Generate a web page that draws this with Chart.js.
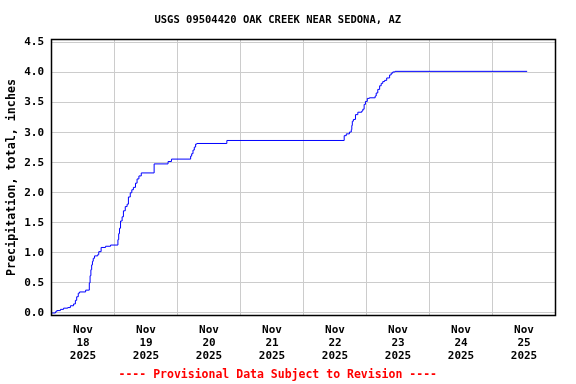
<!DOCTYPE html>
<html>
<head>
<meta charset="utf-8">
<script src="https://cdn.jsdelivr.net/npm/chart.js@4/dist/chart.umd.min.js"></script>
<style>
  body { margin: 0; background: #fff; }
</style>
</head>
<body>
<canvas id="precipChart" width="576" height="384"></canvas>
<script>
// hours since Nov 18 2025 00:00
const hours = [
    0, 1.5, 2.0, 3.4, 4.6, 6.2, 7.2, 8.4, 9.1, 9.6, 10.2, 10.7, 13.0,
    14.4, 14.7, 15.0, 15.3, 15.6, 15.9, 16.4, 17.6, 18.0, 18.9, 20.6, 22.5,
    25.3, 25.6, 25.9, 26.3, 26.9, 27.4, 28.1, 28.8, 29.3, 30.0, 30.6, 31.2,
    32.0, 32.6, 33.3, 34.2, 39.1, 44.4, 45.7,
    53.0, 53.4, 53.9, 54.4, 54.9, 55.4, 66.8,
    111.5, 112.3, 113.5, 114.2, 114.4, 114.6, 115.0, 115.8, 116.7, 118.2, 118.6,
    119.1, 119.6, 120.3, 121.1, 123.3, 123.7, 124.3, 125.0, 125.6, 126.2,
    126.9, 127.7, 128.8, 129.4, 130.0, 130.9, 181.2
]
// running total of precipitation, inches
const precip = [
    0.00, 0.02, 0.04, 0.06, 0.08, 0.09, 0.12, 0.15, 0.21, 0.27, 0.33, 0.35, 0.38,
    0.50, 0.62, 0.72, 0.80, 0.86, 0.91, 0.95, 0.97, 1.02, 1.09, 1.11, 1.13,
    1.22, 1.32, 1.41, 1.53, 1.60, 1.70, 1.77, 1.81, 1.93, 2.00, 2.05, 2.09,
    2.16, 2.23, 2.28, 2.33, 2.48, 2.52, 2.56,
    2.61, 2.65, 2.71, 2.76, 2.81, 2.82, 2.87,
    2.95, 2.98, 3.01, 3.05, 3.12, 3.19, 3.22, 3.30, 3.34, 3.36, 3.39,
    3.47, 3.52, 3.57, 3.58, 3.61, 3.66, 3.72, 3.78, 3.82, 3.85,
    3.87, 3.91, 3.96, 3.99, 4.01, 4.02, 4.02
]

// tick labels
const dayLabels = [
    ['Nov', '18', '2025'], ['Nov', '19', '2025'], ['Nov', '20', '2025'], ['Nov', '21', '2025'],
    ['Nov', '22', '2025'], ['Nov', '23', '2025'], ['Nov', '24', '2025'], ['Nov', '25', '2025']
]
const yTicks = [0.0, 0.5, 1.0, 1.5, 2.0, 2.5, 3.0, 3.5, 4.0, 4.5]

const monoFont = "'DejaVu Sans Mono', 'Liberation Mono', monospace"

// black box round the plot
const frame = {
    id: 'frame',
    afterDatasetsDraw(chart) {
        const { ctx, chartArea } = chart
        ctx.save()
        ctx.strokeStyle = '#000'
        ctx.lineWidth = 1.5
        ctx.strokeRect(chartArea.left, chartArea.top, chartArea.right - chartArea.left, chartArea.bottom - chartArea.top)
        ctx.restore()
    }
}

let points = hours.map((h, i) => ({ x: h, y: precip[i] }))

let precipChart = new Chart(document.querySelector('#precipChart').getContext('2d'), {
    type: 'line',
    data: {
        datasets: [{
            label: 'Precipitation',
            data: points,
            borderColor: '#0000ff',
            borderWidth: 1,
            pointRadius: 0,
            // the total jumps at each reading and then holds
            stepped: 'before',
            fill: false
        }]
    },
    options: {
        responsive: false,
        animation: false,
        devicePixelRatio: 1,
        layout: { padding: { left: 0, right: 20.5, top: 0, bottom: 0 } },
        plugins: {
            legend: { display: false },
            tooltip: { enabled: false },
            title: {
                display: true,
                text: 'USGS 09504420 OAK CREEK NEAR SEDONA, AZ',
                color: '#000',
                font: { family: monoFont, size: 10.5, weight: 'bold', lineHeight: '13px' },
                padding: { top: 13.5, bottom: 13 }
            },
            subtitle: {
                display: true,
                position: 'bottom',
                text: '---- Provisional Data Subject to Revision ----',
                color: '#ff0000',
                font: { family: monoFont, size: 11.5, weight: 'bold', lineHeight: '14px' },
                padding: { top: 4.5, bottom: 1.5 }
            }
        },
        scales: {
            x: {
                type: 'linear',
                min: 0,
                max: 192,
                afterBuildTicks: (scale) => {
                    // a tick every 12 hours: midnight gets the grid line, noon gets the date
                    let ticks = []
                    for (let h = 0; h <= 192; h += 12) ticks.push({ value: h })
                    scale.ticks = ticks
                },
                afterFit: (scale) => { scale.height = 48.5 },
                border: { display: false },
                grid: {
                    drawTicks: false,
                    lineWidth: 1,
                    color: (ctx) => {
                        let v = ctx.tick ? ctx.tick.value : 0
                        return (v % 24 === 0 && v > 0 && v < 192) ? '#cccccc' : 'rgba(0,0,0,0)'
                    }
                },
                ticks: {
                    autoSkip: false,
                    maxRotation: 0,
                    padding: 8,
                    color: '#000',
                    font: { family: monoFont, size: 11, weight: 'bold', lineHeight: 1.2 },
                    callback: (value) => value % 24 === 12 ? dayLabels[(value - 12) / 24] : ''
                }
            },
            y: {
                min: -0.042,
                max: 4.55,
                afterBuildTicks: (scale) => { scale.ticks = yTicks.map(v => ({ value: v })) },
                afterFit: (scale) => { scale.width = 51.5 },
                border: { display: false },
                grid: { drawTicks: false, color: '#cccccc', lineWidth: 1 },
                ticks: {
                    padding: 7.5,
                    color: '#000',
                    font: { family: monoFont, size: 11, weight: 'bold' },
                    callback: (value) => value.toFixed(1)
                },
                title: {
                    display: true,
                    text: 'Precipitation, total, inches',
                    color: '#000',
                    font: { family: monoFont, size: 11.7, weight: 'bold', lineHeight: 1.2 },
                    padding: { top: 5, bottom: 0 }
                }
            }
        }
    },
    plugins: [frame]
});
</script>
</body>
</html>
